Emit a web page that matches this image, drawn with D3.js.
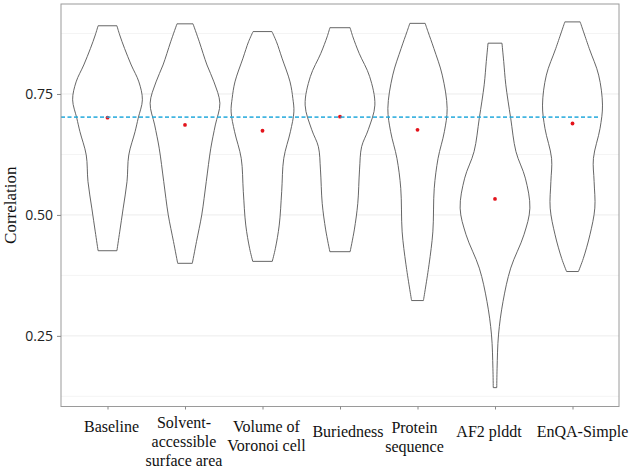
<!DOCTYPE html>
<html><head><meta charset="utf-8">
<script src="https://cdn.jsdelivr.net/npm/d3@7"></script>
<style>body{margin:0;background:#fff}svg{display:block}</style>
</head><body>
<svg id="chart" width="633" height="471"></svg>
<script>
// Categories (x axis), label lines
const categories = ["Baseline","Solvent-accessible surface area","Volume of Voronoi cell","Buriedness","Protein sequence","AF2 plddt","EnQA-Simple"];
const categoryLabels = [["Baseline"],["Solvent-","accessible","surface area"],["Volume of","Voronoi cell"],["Buriedness"],["Protein","sequence"],["AF2 plddt"],["EnQA-Simple"]];
// Mean correlation per category (red points)
const means = [0.701, 0.686, 0.674, 0.703, 0.676, 0.533, 0.689];
// Baseline reference (dashed line)
const baselineRef = 0.702;
// Violin density profiles: [correlation, relative density]
const densBaseline = [[0.891,0.27],[0.872,0.35],[0.844,0.49],[0.81,0.68],[0.775,0.90],[0.738,1.0],[0.70,0.88],[0.672,0.79],[0.624,0.61],[0.569,0.56],[0.514,0.45],[0.465,0.35],[0.426,0.27]];
const densSolvent = [[0.895,0.23],[0.858,0.41],[0.81,0.63],[0.775,0.83],[0.731,1.0],[0.686,0.87],[0.638,0.74],[0.569,0.61],[0.50,0.48],[0.445,0.33],[0.40,0.21]];
const densVoronoi = [[0.879,0.27],[0.858,0.40],[0.824,0.56],[0.775,0.79],[0.741,0.87],[0.713,0.90],[0.672,0.80],[0.617,0.61],[0.548,0.55],[0.479,0.48],[0.431,0.37],[0.404,0.28]];
const densBuried = [[0.887,0.29],[0.868,0.37],[0.834,0.55],[0.786,0.85],[0.727,1.0],[0.676,0.81],[0.641,0.62],[0.593,0.56],[0.524,0.51],[0.469,0.41],[0.424,0.29]];
const densProtein = [[0.896,0.22],[0.879,0.30],[0.844,0.47],[0.789,0.71],[0.72,0.85],[0.672,0.77],[0.617,0.59],[0.555,0.48],[0.465,0.44],[0.397,0.33],[0.323,0.17]];
const densAF2 = [[0.855,0.20],[0.817,0.25],[0.769,0.31],[0.70,0.45],[0.631,0.60],[0.576,0.87],[0.514,1.0],[0.459,0.83],[0.39,0.45],[0.321,0.23],[0.252,0.10],[0.183,0.06],[0.143,0.05]];
const densEnQA = [[0.899,0.22],[0.844,0.48],[0.789,0.75],[0.727,0.86],[0.679,0.79],[0.617,0.60],[0.569,0.62],[0.514,0.64],[0.459,0.50],[0.41,0.31],[0.383,0.17]];
const densities = [densBaseline, densSolvent, densVoronoi, densBuried, densProtein, densAF2, densEnQA];
// Y ticks
const yMajor = [0.25, 0.50, 0.75];
const yMinor = [0.125, 0.375, 0.625, 0.875];
const yDomain = [0.104, 0.936];

const svg = d3.select("#chart");
const P = {left: 61, right: 619, top: 4, bottom: 406.5};

const x = d3.scalePoint().domain(categories).range([P.left, P.right]).padding(0.6);
const y = d3.scaleLinear().domain(yDomain).range([P.bottom, P.top]);
const w = d3.scaleLinear().domain([0, 1]).range([0, x.step() * 0.45]);

// gridlines
svg.append("g").selectAll("line").data(yMinor).join("line")
  .attr("x1", P.left).attr("x2", P.right)
  .attr("y1", d => y(d)).attr("y2", d => y(d))
  .attr("stroke", "#f4f4f4").attr("stroke-width", 1);
svg.append("g").selectAll("line").data(yMajor).join("line")
  .attr("x1", P.left).attr("x2", P.right)
  .attr("y1", d => y(d)).attr("y2", d => y(d))
  .attr("stroke", "#ececec").attr("stroke-width", 1);

// violins
const area = d3.area()
  .y(d => y(d[0]))
  .curve(d3.curveCatmullRom.alpha(0.5));
svg.append("g").selectAll("path").data(categories).join("path")
  .attr("d", (c, i) => area.x0(d => x(c) - w(d[1])).x1(d => x(c) + w(d[1]))(densities[i]))
  .attr("fill", "#fff").attr("stroke", "#555").attr("stroke-width", 0.9);

// mean points
svg.append("g").selectAll("circle").data(categories).join("circle")
  .attr("cx", c => x(c)).attr("cy", (c, i) => y(means[i])).attr("r", 1.9)
  .attr("fill", "#e3131b");

// dashed reference line
svg.append("line")
  .attr("x1", P.left).attr("x2", x(categories[categories.length - 1]) + x.step() * 0.34)
  .attr("y1", y(baselineRef)).attr("y2", y(baselineRef))
  .attr("stroke", "#22a9dc").attr("stroke-width", 1.8).attr("stroke-dasharray", "4,2.5").attr("opacity", 0.85);

// panel border
svg.append("rect").attr("x", P.left).attr("y", P.top)
  .attr("width", P.right - P.left).attr("height", P.bottom - P.top)
  .attr("fill", "none").attr("stroke", "#9a9a9a").attr("stroke-width", 1);

// y axis
const yAxis = d3.axisLeft(y).tickValues(yMajor).tickFormat(d3.format(".2f")).tickSize(4).tickPadding(4);
const gy = svg.append("g").attr("transform", `translate(${P.left},0)`).call(yAxis);
gy.select(".domain").remove();
gy.selectAll(".tick line").attr("stroke", "#888");
gy.selectAll(".tick text").attr("font-family", "'Open Sans', sans-serif").attr("font-size", 14).attr("fill", "#222");

// x axis
const xAxis = d3.axisBottom(x).tickSize(3).tickFormat("");
const gx = svg.append("g").attr("transform", `translate(0,${P.bottom})`).call(xAxis);
gx.select(".domain").remove();
gx.selectAll(".tick line").attr("stroke", "#888");

const labelDx = [4, -1, 4, 8, -3, -6, 10];
const labelShift = [0, -4, 0, 5, 1, 5, 5];
svg.append("g").selectAll("text").data(categories).join("text")
  .attr("y", (c, i) => 432 + labelShift[i])
  .attr("text-anchor", "middle")
  .attr("font-family", "'Liberation Serif', 'Times New Roman', serif")
  .attr("font-size", 16).attr("fill", "#111")
  .each(function(c, i) {
    d3.select(this).selectAll("tspan").data(categoryLabels[i]).join("tspan")
      .attr("x", x(c) + labelDx[i]).attr("dy", (d, j) => j === 0 ? 0 : 19).text(d => d);
  });

// y title
svg.append("text")
  .attr("transform", `translate(16,${(P.top + P.bottom) / 2}) rotate(-90)`)
  .attr("text-anchor", "middle")
  .attr("font-family", "'Liberation Serif', 'Times New Roman', serif")
  .attr("font-size", 17).attr("fill", "#111")
  .text("Correlation");
</script>
</body></html>
